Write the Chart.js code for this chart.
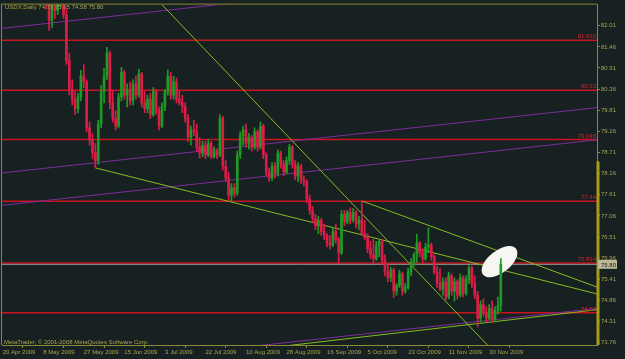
<!DOCTYPE html>
<html>
<head>
<meta charset="utf-8">
<title>USDX Daily</title>
<script src="https://cdn.jsdelivr.net/npm/chart.js@4.4.1/dist/chart.umd.min.js"></script>
<style>
  html, body { margin: 0; padding: 0; background: #172121; }
  canvas { display: block; }
</style>
</head>
<body>
<canvas id="usdxChart" width="625" height="359"></canvas>
<script>
// USDX daily candles, one entry per bar (bar 0 = 20 Apr 2009)
const opens = [
  85.90, 85.60, 85.40, 85.30, 84.90, 84.40, 84.70, 84.90, 84.40, 84.20,
  84.10, 83.70, 83.50, 83.30, 83.20, 82.90, 82.60, 82.15, 82.55, 82.40,
  82.80, 82.95, 82.30, 81.10, 80.35, 80.10, 79.85, 80.15, 80.70, 80.55,
  79.35, 79.05, 78.70, 78.50, 79.45, 80.30, 80.70, 81.30, 80.00, 79.60,
  79.40, 80.15, 80.80, 80.20, 80.35, 80.05, 80.50, 80.20, 80.75, 80.00,
  79.85, 80.10, 79.70, 80.30, 79.80, 79.40, 79.90, 80.30, 80.70, 80.20,
  80.55, 80.10, 80.00, 79.90, 79.60, 79.10, 79.30, 79.25, 78.85, 78.70,
  78.90, 78.65, 78.95, 78.60, 78.75, 78.65, 79.60, 78.35, 78.05, 77.60,
  77.80, 77.65, 78.65, 79.15, 79.30, 78.95, 79.10, 78.85, 79.25, 78.85,
  79.40, 78.65, 78.20, 78.05, 78.35, 78.15, 78.70, 78.40, 78.20, 78.50,
  78.85, 78.40, 78.10, 78.35, 78.00, 77.95, 77.50, 77.20, 77.00, 76.80,
  76.95, 76.65, 76.55, 76.35, 76.30, 76.65, 76.45, 76.10, 77.10, 76.90,
  77.15, 76.95, 77.15, 76.85, 76.95, 76.60, 76.50, 76.20, 76.05, 75.95,
  76.30, 76.40, 75.90, 75.60, 75.45, 75.65, 75.10, 75.25, 75.55, 75.10,
  75.20, 75.60, 75.85, 76.05, 76.35, 76.10, 75.95, 76.25, 76.30, 76.00,
  75.60, 75.30, 75.15, 75.35, 74.95, 75.50, 75.10, 75.35, 75.00, 75.45,
  75.05, 75.40, 75.70, 75.30, 75.00, 74.40, 74.75, 74.55, 74.40, 74.65,
  74.35, 74.60, 74.73
];
const highs = [
  86.20, 86.00, 85.70, 85.50, 85.10, 84.90, 85.10, 85.00, 84.60, 84.50,
  84.20, 83.90, 83.70, 83.60, 83.40, 83.20, 82.80, 82.70, 82.90, 83.00,
  83.10, 83.00, 82.45, 81.30, 80.60, 80.30, 80.25, 80.85, 81.00, 80.60,
  79.50, 79.20, 78.95, 79.55, 80.45, 80.90, 81.45, 81.35, 80.30, 79.80,
  80.25, 80.93, 80.85, 80.50, 80.55, 80.60, 80.70, 80.88, 80.80, 80.30,
  80.20, 80.25, 80.40, 80.35, 79.90, 80.00, 80.35, 80.86, 80.80, 80.70,
  80.65, 80.30, 80.20, 80.00, 79.70, 79.40, 79.55, 79.45, 79.10, 79.00,
  79.00, 79.05, 79.00, 78.85, 78.80, 79.70, 79.65, 78.50, 78.20, 77.90,
  77.90, 78.75, 79.25, 79.40, 79.45, 79.20, 79.15, 79.35, 79.30, 79.51,
  79.45, 78.70, 78.30, 78.45, 78.45, 78.78, 78.75, 78.50, 78.60, 78.92,
  78.90, 78.50, 78.45, 78.40, 78.10, 78.00, 77.60, 77.30, 77.10, 77.05,
  77.00, 76.85, 76.60, 76.55, 76.75, 76.85, 76.50, 77.20, 77.20, 77.20,
  77.27, 77.25, 77.20, 77.05, 77.45, 76.95, 76.60, 76.40, 76.45, 76.40,
  76.45, 76.45, 76.05, 75.80, 75.72, 75.70, 75.30, 75.65, 75.60, 75.30,
  75.70, 75.95, 76.10, 76.59, 76.40, 76.20, 76.35, 76.75, 76.35, 76.05,
  75.75, 75.70, 75.45, 75.45, 75.60, 75.55, 75.45, 75.40, 75.55, 75.50,
  75.50, 75.77, 75.75, 75.50, 75.10, 74.85, 74.90, 74.70, 74.75, 74.85,
  74.70, 74.95, 75.95
];
const lows = [
  85.40, 85.20, 85.00, 84.70, 84.20, 84.30, 84.50, 84.20, 83.90, 83.80,
  83.50, 83.30, 83.00, 82.90, 82.70, 82.45, 81.89, 81.95, 82.20, 82.30,
  82.50, 82.20, 81.00, 80.20, 79.95, 79.70, 79.75, 80.05, 80.40, 79.25,
  78.90, 78.55, 78.31, 78.40, 79.35, 80.00, 80.60, 79.85, 79.50, 79.30,
  79.35, 80.05, 80.10, 79.90, 79.95, 79.95, 80.10, 80.15, 79.90, 79.75,
  79.75, 79.60, 79.65, 79.70, 79.30, 79.35, 79.80, 80.20, 80.10, 80.10,
  80.00, 79.95, 79.75, 79.50, 79.00, 78.90, 79.15, 78.75, 78.56, 78.60,
  78.55, 78.60, 78.55, 78.56, 78.55, 78.60, 78.25, 77.95, 77.45, 77.44,
  77.55, 77.60, 78.55, 78.90, 78.85, 78.80, 78.75, 78.80, 78.75, 78.80,
  78.55, 78.10, 77.96, 77.98, 78.05, 78.10, 78.30, 78.10, 78.15, 78.40,
  78.30, 78.00, 77.95, 77.90, 77.85, 77.40, 77.10, 76.90, 76.70, 76.60,
  76.55, 76.45, 76.25, 76.20, 76.25, 76.35, 75.82, 76.05, 76.80, 76.85,
  76.85, 76.90, 76.75, 76.70, 76.55, 76.45, 76.10, 75.95, 75.85, 75.90,
  76.00, 75.80, 75.50, 75.35, 75.35, 74.94, 75.00, 75.20, 75.00, 75.05,
  75.15, 75.50, 75.75, 75.85, 76.00, 75.85, 75.90, 76.10, 75.90, 75.55,
  75.20, 75.10, 75.00, 74.86, 74.90, 75.00, 74.85, 74.90, 74.95, 74.95,
  75.00, 75.30, 75.20, 74.90, 74.17, 74.30, 74.45, 74.30, 74.35, 74.29,
  74.30, 74.50, 74.58
];
const closes = [
  85.60, 85.40, 85.30, 84.90, 84.40, 84.70, 84.90, 84.40, 84.20, 84.10,
  83.70, 83.50, 83.30, 83.20, 82.90, 82.60, 82.15, 82.55, 82.40, 82.80,
  82.95, 82.30, 81.10, 80.35, 80.10, 79.85, 80.15, 80.70, 80.55, 79.35,
  79.05, 78.70, 78.50, 79.45, 80.30, 80.70, 81.30, 80.00, 79.60, 79.40,
  80.15, 80.80, 80.20, 80.35, 80.05, 80.50, 80.20, 80.75, 80.00, 79.85,
  80.10, 79.70, 80.30, 79.80, 79.40, 79.90, 80.30, 80.70, 80.20, 80.55,
  80.10, 80.00, 79.90, 79.60, 79.10, 79.30, 79.25, 78.85, 78.70, 78.90,
  78.65, 78.95, 78.60, 78.75, 78.65, 79.60, 78.35, 78.05, 77.60, 77.80,
  77.65, 78.65, 79.15, 79.30, 78.95, 79.10, 78.85, 79.25, 78.85, 79.40,
  78.65, 78.20, 78.05, 78.35, 78.15, 78.70, 78.40, 78.20, 78.50, 78.85,
  78.40, 78.10, 78.35, 78.00, 77.95, 77.50, 77.20, 77.00, 76.80, 76.95,
  76.65, 76.55, 76.35, 76.30, 76.65, 76.45, 76.10, 77.10, 76.90, 77.15,
  76.95, 77.15, 76.85, 76.95, 76.60, 76.50, 76.20, 76.05, 75.95, 76.30,
  76.40, 75.90, 75.60, 75.45, 75.65, 75.10, 75.25, 75.55, 75.10, 75.20,
  75.60, 75.85, 76.05, 76.35, 76.10, 75.95, 76.25, 76.30, 76.00, 75.60,
  75.30, 75.15, 75.35, 74.95, 75.50, 75.10, 75.35, 75.00, 75.45, 75.05,
  75.40, 75.70, 75.30, 75.00, 74.40, 74.75, 74.55, 74.40, 74.65, 74.35,
  74.60, 74.73, 75.80
];

// time axis: bar index of each date label
const dateTicks = [0, 14, 28, 42, 56, 70, 84, 98, 112, 126, 140, 154, 168];
const dateLabels = ["20 Apr 2009", "8 May 2009", "27 May 2009", "15 Jun 2009", "3 Jul 2009",
  "22 Jul 2009", "10 Aug 2009", "28 Aug 2009", "16 Sep 2009", "5 Oct 2009",
  "23 Oct 2009", "11 Nov 2009", "30 Nov 2009"];
const priceTicks = [73.76, 74.31, 74.86, 75.41, 75.96, 76.51, 77.06, 77.61,
  78.16, 78.71, 79.26, 79.81, 80.36, 80.91, 81.46, 82.01];

// horizontal levels and their captions
const levelValues = [81.630, 80.33, 79.048, 77.44, 75.834, 74.54];
const levelLabels = ["81.630", "80.33", "79.048", "77.44", "75.834", "74.54"];
const bidPrice = 75.80;

// drawn objects, [bar, price, bar, price]
const channelLines = [
  [-0.3, 81.94, 205.3, 83.645],
  [-0.3, 78.177, 205.3, 79.88],
  [-0.3, 77.335, 205.3, 79.04],
  [-0.3, 72.948, 205.3, 74.654]
];
const trendLines = [
  [52.0, 82.795, 170.0, 73.493],
  [32.0, 78.31, 205.3, 75.028],
  [124.0, 77.45, 205.3, 75.206],
  [90.0, 73.61, 205.3, 74.619]
];
const ellipseAt = [171.55, 75.87];
const axisMarkFrom = 78.48;

const title = "USDX,Daily 74.73 75.95 74.58 75.80";
const copyright = "MetaTrader, \u00a9 2001-2008 MetaQuotes Software Corp.";

const BG = "#172121";
const AXIS = "#8c8a34";
const TEXT = "#a8a452";
const UP = "#1f9a24";
const DOWN = "#dc1c48";
const LEVEL = "#c8141e";
const FONT_FAMILY = "'Liberation Sans', Arial, sans-serif";
const X_MIN = -0.24, X_MAX = 205.21;

const bars = closes.map((c, i) => i);
const candleColors = bars.map(i => closes[i] >= opens[i] ? UP : DOWN);

function segment(l, color, order) {
  return {
    type: "line",
    data: [{ x: l[0], y: l[1] }, { x: l[2], y: l[3] }],
    borderColor: color,
    borderWidth: 1,
    pointRadius: 0,
    tension: 0,
    fill: false,
    order: order
  };
}

const datasets = [];
levelValues.forEach(v => {
  const d = segment([X_MIN, v, X_MAX, v], LEVEL, 30);
  d.borderWidth = 1.5;
  datasets.push(d);
});
datasets.push(segment([X_MIN, bidPrice, X_MAX, bidPrice], "#9a9a96", 25));
channelLines.forEach(l => datasets.push(segment(l, "#7e2c9c", 12)));
trendLines.forEach(l => datasets.push(segment(l, "#86bc22", 10)));
datasets.push({
  type: "bar",
  label: "wicks",
  data: bars.map(i => ({ x: i, y: [lows[i], highs[i]] })),
  backgroundColor: candleColors,
  barThickness: 1,
  grouped: false,
  clip: 0,
  order: 2
});
datasets.push({
  type: "bar",
  label: "bodies",
  data: bars.map(i => ({ x: i, y: [opens[i], closes[i]] })),
  backgroundColor: candleColors,
  barThickness: 2,
  minBarLength: 1,
  grouped: false,
  clip: 0,
  order: 1
});

const mtPlugin = {
  id: "metatrader",
  beforeDraw(chart) {
    const c = chart.ctx;
    c.save();
    c.fillStyle = BG;
    c.fillRect(0, 0, chart.width, chart.height);
    c.restore();
  },
  beforeDatasetDraw(chart, args) {
    if (chart.data.datasets[args.index].label !== "wicks") return;
    const x = chart.scales.x, y = chart.scales.y, c = chart.ctx;
    c.save();
    c.beginPath();
    c.ellipse(x.getPixelForValue(ellipseAt[0]), y.getPixelForValue(ellipseAt[1]),
      21, 11, -38 * Math.PI / 180, 0, Math.PI * 2);
    c.fillStyle = "#f6f6f2";
    c.fill();
    c.restore();
  },
  afterDraw(chart) {
    const c = chart.ctx, a = chart.chartArea, y = chart.scales.y;
    c.save();
    // top and left edge of the frame
    c.strokeStyle = AXIS;
    c.lineWidth = 1;
    c.beginPath();
    c.moveTo(a.left - 0.5, a.bottom);
    c.lineTo(a.left - 0.5, a.top - 0.5);
    c.lineTo(a.right, a.top - 0.5);
    c.stroke();
    // highlighted part of the price axis
    c.fillStyle = "#a89c1e";
    const yTop = y.getPixelForValue(axisMarkFrom);
    c.fillRect(a.right - 0.5, yTop, 3, a.bottom - yTop);

    c.font = "6px " + FONT_FAMILY;
    c.textBaseline = "alphabetic";
    // level captions
    c.fillStyle = "#d8202a";
    c.textAlign = "right";
    levelValues.forEach((v, i) => {
      c.fillText(levelLabels[i], a.right - 1, y.getPixelForValue(v) - 2);
    });
    // bid price box
    const yb = y.getPixelForValue(bidPrice);
    c.fillStyle = "#bcb898";
    c.fillRect(a.right + 1, yb - 4.5, 19, 9);
    c.fillStyle = "#1a1a10";
    c.textAlign = "left";
    c.fillText(bidPrice.toFixed(2), a.right + 4, yb + 2.2);
    // chart caption and copyright
    c.fillStyle = TEXT;
    c.fillText(title, 5, 9);
    c.fillText(copyright, 4, a.bottom - 1);
    c.restore();
  }
};

new Chart(document.getElementById("usdxChart").getContext("2d"), {
  type: "bar",
  data: { datasets: datasets },
  plugins: [mtPlugin],
  options: {
    responsive: false,
    animation: false,
    events: [],
    layout: { padding: { left: 2, top: 2, right: 0, bottom: 0 } },
    plugins: { legend: { display: false }, tooltip: { enabled: false } },
    scales: {
      x: {
        type: "linear",
        min: X_MIN,
        max: X_MAX,
        offset: false,
        afterBuildTicks: s => { s.ticks = dateTicks.map(v => ({ value: v })); },
        afterFit: s => { s.height = 14; },
        ticks: {
          autoSkip: false,
          maxRotation: 0,
          minRotation: 0,
          align: "start",
          padding: 1,
          color: TEXT,
          font: { family: FONT_FAMILY, size: 6 },
          callback: v => dateLabels[dateTicks.indexOf(v)]
        },
        grid: { drawOnChartArea: false, color: AXIS, tickLength: 3 },
        border: { color: AXIS }
      },
      y: {
        position: "right",
        min: 73.70,
        max: 82.56,
        beginAtZero: false,
        afterBuildTicks: s => { s.ticks = priceTicks.map(v => ({ value: v })); },
        afterFit: s => { s.width = 28; },
        ticks: {
          padding: 1,
          color: TEXT,
          font: { family: FONT_FAMILY, size: 6 },
          callback: v => v.toFixed(2)
        },
        grid: { drawOnChartArea: false, color: AXIS, tickLength: 3 },
        border: { color: AXIS }
      }
    }
  }
});
</script>
</body>
</html>
